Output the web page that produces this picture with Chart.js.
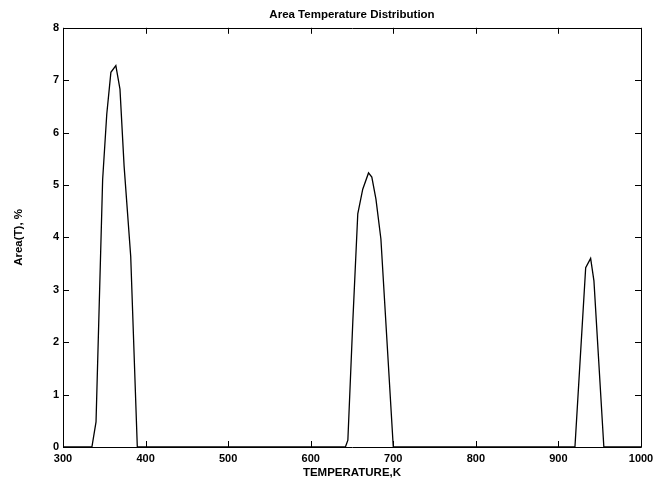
<!DOCTYPE html>
<html>
<head>
<meta charset="utf-8">
<script src="https://cdn.jsdelivr.net/npm/chart.js@4/dist/chart.umd.min.js"></script>
<style>
  body { margin: 0; background: #fff; }
  #wrap { width: 664px; height: 483px; }
</style>
</head>
<body>
<div id="wrap"><canvas id="areaTemp" width="664" height="483"></canvas></div>
<script>
// area temperature distribution - three peaks

const temperature = [300, 335, 340, 348, 353, 358, 364, 369, 374, 382, 390,
  642, 645, 651, 657, 663, 670, 674, 679, 685, 700,
  920, 933, 939, 943, 955, 1000]
const areaPct = [0, 0, 0.48, 5.1, 6.35, 7.15, 7.28, 6.83, 5.36, 3.64, 0,
  0, 0.13, 2.4, 4.45, 4.92, 5.23, 5.15, 4.73, 3.97, 0,
  0, 3.42, 3.6, 3.17, 0, 0]
const xTicks = [300, 400, 500, 600, 700, 800, 900, 1000]
const yTicks = [0, 1, 2, 3, 4, 5, 6, 7, 8]

const points = temperature.map((t, i) => ({ x: t, y: areaPct[i] }))
const tickFont = { family: 'Liberation Sans, Arial, sans-serif', size: 11, weight: 'bold' }
const titleFont = { family: 'Liberation Sans, Arial, sans-serif', size: 11.5, weight: 'bold' }

// matlab style box with ticks pointing inwards
const boxTicks = {
  id: 'boxTicks',
  afterDatasetsDraw(chart) {
    const { ctx, chartArea: a, scales } = chart
    ctx.save()
    ctx.strokeStyle = '#000'
    ctx.lineWidth = 1
    ctx.beginPath()
    ctx.rect(Math.round(a.left) + 0.5, Math.round(a.top) + 0.5,
      Math.round(a.right - a.left), Math.round(a.bottom - a.top))
    ctx.stroke()
    const len = 6
    ctx.beginPath()
    xTicks.forEach(v => {
      const px = Math.round(scales.x.getPixelForValue(v)) + 0.5
      ctx.moveTo(px, a.bottom); ctx.lineTo(px, a.bottom - len)
      ctx.moveTo(px, a.top); ctx.lineTo(px, a.top + len)
    })
    yTicks.forEach(v => {
      const py = Math.round(scales.y.getPixelForValue(v)) + 0.5
      ctx.moveTo(a.left, py); ctx.lineTo(a.left + len, py)
      ctx.moveTo(a.right, py); ctx.lineTo(a.right - len, py)
    })
    ctx.stroke()
    ctx.restore()
  }
}

const ctx = document.getElementById('areaTemp').getContext('2d')
const areaChart = new Chart(ctx, {
  type: 'scatter',
  data: {
    datasets: [{
      label: 'Area(T)',
      data: points,
      showLine: true,
      borderColor: '#000',
      borderWidth: 1.3,
      pointRadius: 0,
      tension: 0
    }]
  },
  options: {
    responsive: false,
    animation: false,
    layout: { padding: { left: 0, right: 23, top: 0, bottom: 0 } },
    plugins: {
      legend: { display: false },
      tooltip: { enabled: false },
      title: {
        display: true,
        fullSize: false,
        text: 'Area Temperature Distribution',
        color: '#000',
        font: titleFont,
        padding: { top: 8, bottom: 6 }
      }
    },
    scales: {
      x: {
        type: 'linear',
        min: 300,
        max: 1000,
        afterFit: s => { s.height = 36 },
        afterBuildTicks: s => { s.ticks = xTicks.map(v => ({ value: v })) },
        grid: { display: false, drawTicks: false },
        border: { display: false },
        ticks: { color: '#000', font: tickFont, padding: 5, maxRotation: 0, callback: v => String(v) },
        title: {
          display: true,
          text: 'TEMPERATURE,K',
          color: '#000',
          font: titleFont,
          padding: { top: 0, bottom: 3 }
        }
      },
      y: {
        min: 0,
        max: 8,
        afterFit: s => { s.width = 63 },
        afterBuildTicks: s => { s.ticks = yTicks.map(v => ({ value: v })) },
        grid: { display: false, drawTicks: false },
        border: { display: false },
        ticks: { color: '#000', font: tickFont, padding: 4 },
        title: {
          display: true,
          text: 'Area(T), %',
          color: '#000',
          font: titleFont,
          padding: { top: 12, bottom: 0 }
        }
      }
    }
  },
  plugins: [boxTicks]
})
</script>
</body>
</html>
